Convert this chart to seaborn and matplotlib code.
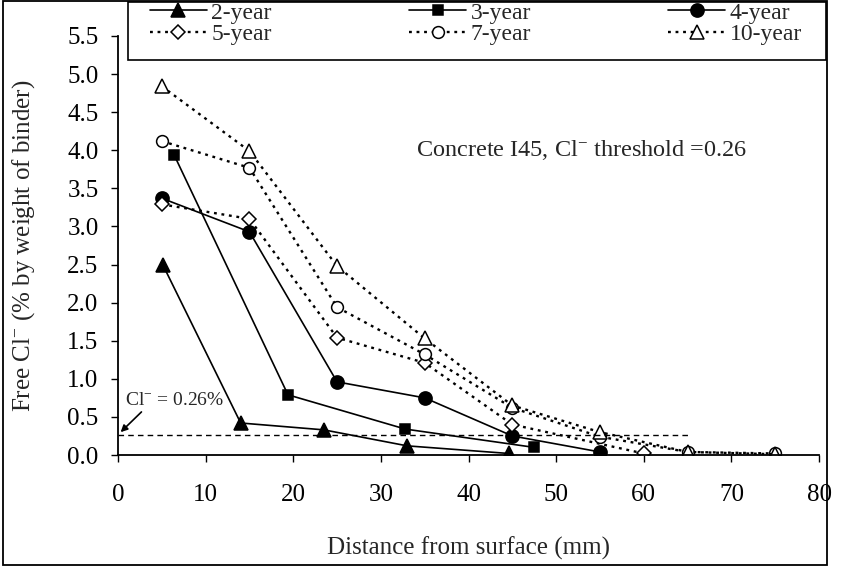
import matplotlib
matplotlib.use("Agg")
import matplotlib.pyplot as plt
import seaborn as sns
from matplotlib.patches import Rectangle

# ---- data ----
x_2yr = [5.1, 14.0, 23.5, 33.0, 44.6]
y_2yr = [2.50, 0.42, 0.33, 0.12, 0.02]
x_3yr = [6.4, 19.4, 32.8, 47.5]
y_3yr = [3.94, 0.79, 0.34, 0.10]
x_4yr = [5, 15, 25, 35, 45, 55]
y_4yr = [3.37, 2.93, 0.96, 0.75, 0.25, 0.04]
x_5yr = [5, 15, 25, 35, 45, 60]
y_5yr = [3.29, 3.10, 1.54, 1.21, 0.40, 0.02]
x_7yr = [5, 15, 25, 35, 45, 55, 65, 75]
y_7yr = [4.12, 3.77, 1.94, 1.32, 0.62, 0.24, 0.04, 0.02]
x_10yr = [5, 15, 25, 35, 45, 55, 65, 75]
y_10yr = [4.84, 3.99, 2.48, 1.53, 0.65, 0.30, 0.04, 0.01]
threshold_x = [0, 65]
threshold_y = [0.26, 0.26]
x_ticks = [0, 10, 20, 30, 40, 50, 60, 70, 80]
y_ticks = [0.0, 0.5, 1.0, 1.5, 2.0, 2.5, 3.0, 3.5, 4.0, 4.5, 5.0, 5.5]

sns.set_style("ticks")
plt.rcParams["font.family"] = ["Liberation Serif", "DejaVu Serif"]
plt.rcParams["mathtext.fontset"] = "custom"
plt.rcParams["mathtext.rm"] = "Liberation Serif"
plt.rcParams["mathtext.it"] = "Liberation Serif:italic"
plt.rcParams["mathtext.bf"] = "Liberation Serif:bold"

FS = 18
W, H = 844, 568
fig = plt.figure(figsize=(W / 100, H / 100), dpi=100)
ax = fig.add_axes([118 / W, 1 - 455 / H, (819 - 118) / W, (455 - 36) / H])

dot = (0, (1.2, 2.0))
series = [
    ("2-year", x_2yr, y_2yr, dict(marker="^", linestyle="-", markersize=9.5, mfc="black")),
    ("3-year", x_3yr, y_3yr, dict(marker="s", linestyle="-", markersize=6.5, mfc="black")),
    ("4-year", x_4yr, y_4yr, dict(marker="o", linestyle="-", markersize=9.5, mfc="black")),
    ("5-year", x_5yr, y_5yr, dict(marker="D", linestyle=dot, markersize=7.5, mfc="white")),
    ("7-year", x_7yr, y_7yr, dict(marker="o", linestyle=dot, markersize=8.5, mfc="white")),
    ("10-year", x_10yr, y_10yr, dict(marker="^", linestyle=dot, markersize=10.5, mfc="white")),
]
handles = {}
for name, xs, ys, kw in series:
    sns.lineplot(x=xs, y=ys, ax=ax, color="black", sort=False, estimator=None,
                 lw=1.2 if kw["linestyle"] == "-" else 1.7, mec="black", mew=1.1,
                 label=name, **kw)
    handles[name] = ax.lines[-1]

sns.lineplot(x=threshold_x, y=threshold_y, ax=ax, color="black", lw=1.0,
             linestyle=(0, (4, 3)), estimator=None)

ax.set_xlim(0, 80)
ax.set_ylim(0, 5.5)
ax.set_xticks(x_ticks)
ax.set_yticks(y_ticks)
ax.set_yticklabels([f"{v:.1f}" for v in y_ticks])
ax.tick_params(axis="both", labelsize=FS, direction="out", length=5, width=1, colors="black")
ax.tick_params(axis="x", pad=16)
ax.tick_params(axis="y", pad=9)
for s in ["left", "bottom"]:
    ax.spines[s].set_color("black")
    ax.spines[s].set_linewidth(1.3)
for s in ["top", "right"]:
    ax.spines[s].set_visible(False)

ax.set_xlabel("Distance from surface (mm)", fontsize=FS, labelpad=22)
ax.set_ylabel("Free Cl$^{-}$ (% by weight of binder)", fontsize=FS, labelpad=22)

ax.text(34, 4.0, "Concrete I45, Cl$^{-}$ threshold =0.26", fontsize=FS - 0.5, va="center", ha="left")
ax.annotate("Cl$^{-}$ = 0.26%", xy=(0.3, 0.30), xytext=(0.8, 0.72), fontsize=14,
            va="center", ha="left",
            arrowprops=dict(arrowstyle="-|>", color="black", lw=1.2, shrinkA=0, shrinkB=0,
                            mutation_scale=10, relpos=(0.2, 0.0)))

if ax.get_legend():
    ax.get_legend().remove()

# legend box
fig.patches.append(Rectangle((128 / W, 1 - 60 / H), (826 - 128) / W, 58 / H,
                             transform=fig.transFigure, facecolor="white",
                             edgecolor="black", lw=1.2, zorder=2))
order = ["2-year", "5-year", "3-year", "7-year", "4-year", "10-year"]
leg = fig.legend([handles[n] for n in order], order, ncol=3, loc="upper left",
                 bbox_to_anchor=(150 / W, 1 - 3 / H, (802 - 150) / W, 1 / H), mode="expand",
                 frameon=False, fontsize=17, handlelength=2.4, handletextpad=0.2,
                 borderaxespad=0, labelspacing=0.0, borderpad=0)
leg.set_zorder(5)

# outer chart border
fig.patches.append(Rectangle((3 / W, 3 / H), (827 - 3) / W, (H - 4) / H,
                             transform=fig.transFigure, fill=False, edgecolor="black",
                             lw=1.3, zorder=3))

fig.savefig("out.png", dpi=100, facecolor="white")
